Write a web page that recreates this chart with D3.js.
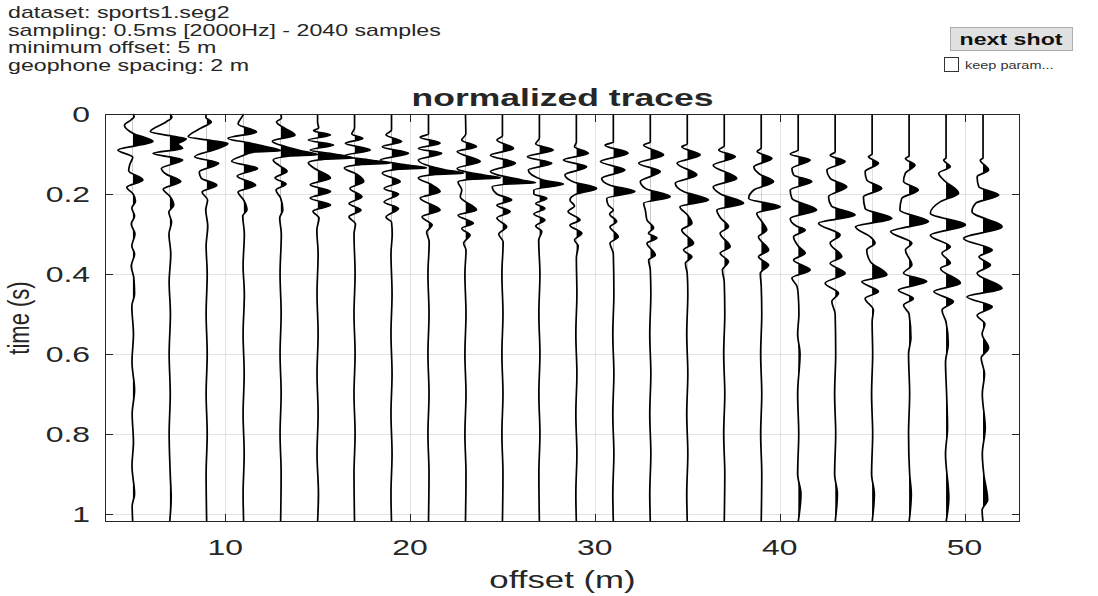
<!DOCTYPE html>
<html>
<head>
<meta charset="utf-8">
<script src="https://cdn.jsdelivr.net/npm/d3@7"></script>
<style>
  body { margin: 0; background: #fff; }
  text { font-family: "Liberation Sans", Arial, sans-serif; fill: #262626; }
</style>
</head>
<body>
<script>
// geophone offsets (m), one trace each
const offsets = [5, 7, 9, 11, 13, 15, 17, 19, 21, 23, 25, 27, 29, 31, 33, 35, 37, 39, 41, 43, 45, 47, 49, 51];
const xTicks = [10, 20, 30, 40, 50];
const yTicks = [0, 0.2, 0.4, 0.6, 0.8, 1];
const infoLines = [
  "dataset: sports1.seg2",
  "sampling: 0.5ms [2000Hz] - 2040 samples",
  "minimum offset: 5 m",
  "geophone spacing: 2 m"
];

// each trace: [time (s), normalized amplitude (in offset units)]
const tr05 = [[0,0],[0.006,0.08],[0.015,-0.1],[0.028,-0.45],[0.048,0],[0.069,1.1],[0.09,-0.8],[0.108,0],[0.125,-0.15],[0.142,-0.22],[0.165,0.55],[0.183,-0.32],[0.2,0.02],[0.218,0.15],[0.235,-0.05],[0.255,0.1],[0.275,-0.08],[0.3,0.12],[0.33,-0.05],[0.35,0.1],[0.38,-0.08],[0.41,0.06],[0.45,0.1],[0.48,-0.05],[0.55,0.04],[0.62,-0.04],[0.69,0.1],[0.75,-0.03],[0.82,0.04],[0.88,-0.04],[0.95,0.1],[0.98,-0.03],[1.02,0]];
const tr07 = [[0,0],[0.008,0.12],[0.02,-0.2],[0.044,-1.05],[0.056,0.2],[0.062,0.9],[0.075,0.45],[0.086,0.7],[0.098,-0.9],[0.115,0.7],[0.136,-0.45],[0.15,-0.2],[0.169,0.6],[0.188,-0.35],[0.205,0],[0.228,0.22],[0.245,-0.05],[0.27,0.1],[0.3,-0.04],[0.35,0.06],[0.42,-0.03],[0.5,0.04],[0.6,-0.03],[0.7,0.03],[0.8,-0.03],[0.9,0.03],[0.96,0.08],[1.02,0]];
const tr09 = [[0,0],[0.008,-0.05],[0.02,0.25],[0.035,-0.3],[0.057,-1.0],[0.066,0.2],[0.074,1.15],[0.088,0.5],[0.107,-0.65],[0.123,0.65],[0.145,-0.4],[0.16,-0.3],[0.178,0.55],[0.195,-0.25],[0.215,0.05],[0.24,-0.05],[0.28,0.06],[0.33,-0.03],[0.4,0.03],[0.5,-0.03],[0.6,0.03],[0.7,-0.03],[0.8,0.03],[0.9,-0.03],[1.02,0]];
const tr11 = [[0,0],[0.008,-0.1],[0.025,-0.3],[0.045,0.7],[0.061,-0.85],[0.072,0.3],[0.082,1.25],[0.092,2.0],[0.095,0.6],[0.105,-0.1],[0.118,-0.65],[0.136,0.75],[0.155,-0.35],[0.178,0.65],[0.195,-0.3],[0.215,0],[0.24,0.18],[0.255,-0.05],[0.3,0.04],[0.38,-0.03],[0.45,0.04],[0.55,-0.03],[0.65,0.03],[0.75,-0.03],[0.85,0.03],[0.95,-0.03],[1.02,0]];
const tr13 = [[0,0],[0.01,0.05],[0.02,-0.22],[0.035,0.2],[0.053,0.78],[0.068,-0.45],[0.082,0.3],[0.092,1.1],[0.102,2.0],[0.105,0.5],[0.115,-0.4],[0.128,-0.1],[0.143,0.35],[0.16,-0.3],[0.175,0.3],[0.19,-0.25],[0.21,0],[0.24,0.12],[0.26,-0.05],[0.3,0.04],[0.4,-0.03],[0.5,0.03],[0.6,-0.03],[0.7,0.03],[0.8,-0.03],[0.9,0.03],[1.02,0]];
const tr15 = [[0,0],[0.02,0],[0.035,0.06],[0.042,-0.22],[0.0525,0.7],[0.065,-0.5],[0.0775,0.87],[0.09,-0.4],[0.1,0.9],[0.11,1.9],[0.113,0.4],[0.122,-0.5],[0.135,-0.2],[0.16,0.7],[0.177,-0.4],[0.194,0.7],[0.21,-0.4],[0.2275,0.7],[0.243,-0.25],[0.26,0.08],[0.29,-0.04],[0.35,0.03],[0.45,-0.03],[0.55,0.03],[0.65,-0.03],[0.75,0.03],[0.85,-0.03],[0.95,0.05],[1.02,0]];
const tr17 = [[0,0],[0.035,0],[0.05,-0.15],[0.061,0.45],[0.073,-0.5],[0.09,0.85],[0.105,-0.6],[0.115,0.85],[0.123,1.9],[0.126,0.4],[0.135,-0.55],[0.15,0.1],[0.169,0.5],[0.186,-0.25],[0.207,0.4],[0.224,-0.3],[0.24,0.35],[0.257,-0.3],[0.275,0.05],[0.3,-0.03],[0.4,0.03],[0.5,-0.03],[0.6,0.03],[0.7,-0.03],[0.8,0.03],[0.9,-0.03],[1.02,0]];
const tr19 = [[0,0],[0.04,0],[0.052,-0.3],[0.069,0.55],[0.082,-0.5],[0.098,0.92],[0.115,-0.6],[0.128,0.9],[0.135,1.9],[0.138,0.4],[0.148,-0.5],[0.169,0.47],[0.186,-0.4],[0.2,0.38],[0.22,-0.4],[0.236,0.38],[0.258,-0.3],[0.27,0],[0.3,0.04],[0.35,-0.03],[0.45,0.03],[0.55,-0.03],[0.65,0.03],[0.75,-0.03],[0.85,0.03],[0.95,-0.03],[1.02,0]];
const tr21 = [[0,0],[0.05,0],[0.058,-0.45],[0.073,0.63],[0.086,-0.55],[0.098,0.72],[0.115,-0.55],[0.14,0.95],[0.148,1.9],[0.151,0.4],[0.16,-0.55],[0.175,0.1],[0.194,0.63],[0.21,-0.45],[0.24,0.63],[0.257,-0.35],[0.2775,0.2],[0.295,-0.1],[0.32,0.04],[0.4,-0.03],[0.5,0.03],[0.6,-0.03],[0.7,0.03],[0.8,-0.03],[0.9,0.03],[1.02,0]];
const tr23 = [[0,0],[0.05,0.02],[0.065,-0.2],[0.082,0.6],[0.094,-0.45],[0.119,0.8],[0.136,-0.45],[0.153,1.0],[0.16,1.9],[0.163,0.4],[0.17,-0.4],[0.19,-0.2],[0.207,-0.28],[0.24,0.6],[0.253,-0.4],[0.273,0.43],[0.286,-0.2],[0.3025,0.25],[0.323,-0.1],[0.34,0.03],[0.4,-0.03],[0.5,0.03],[0.6,-0.03],[0.7,0.03],[0.8,-0.03],[0.9,0.03],[1.02,0]];
const tr25 = [[0,0],[0.055,0],[0.065,-0.3],[0.086,0.6],[0.103,-0.65],[0.123,0.7],[0.144,-0.65],[0.165,1.05],[0.172,1.8],[0.175,0.4],[0.182,-0.55],[0.2,-0.3],[0.215,0.5],[0.228,-0.3],[0.244,0.42],[0.26,-0.3],[0.282,0.23],[0.3,-0.2],[0.32,0.04],[0.4,-0.03],[0.5,0.03],[0.6,-0.03],[0.7,0.03],[0.8,-0.03],[0.9,0.03],[1.02,0]];
const tr27 = [[0,0],[0.06,0],[0.075,-0.2],[0.09,0.75],[0.107,-0.65],[0.123,0.67],[0.14,-0.6],[0.165,0.2],[0.175,1.3],[0.19,-0.3],[0.2,-0.3],[0.211,0.4],[0.224,-0.2],[0.236,0.3],[0.25,-0.3],[0.265,0.3],[0.28,-0.2],[0.294,0.13],[0.315,-0.04],[0.4,0.03],[0.5,-0.03],[0.6,0.03],[0.7,-0.03],[0.8,0.03],[0.9,-0.03],[1.02,0]];
const tr29 = [[0,0],[0.07,0],[0.082,-0.1],[0.098,0.65],[0.115,-0.7],[0.132,0.56],[0.152,-0.62],[0.17,-0.15],[0.186,1.1],[0.2,0],[0.215,-0.35],[0.23,-0.1],[0.244,-0.45],[0.265,0.2],[0.278,-0.35],[0.298,0.3],[0.315,-0.1],[0.33,0.1],[0.36,0],[0.45,0.03],[0.55,-0.03],[0.65,0.03],[0.75,-0.03],[0.85,0.03],[0.95,-0.03],[1.02,0]];
const tr31 = [[0,0],[0.07,0],[0.078,-0.45],[0.098,0.8],[0.119,-0.7],[0.14,0.63],[0.161,-0.63],[0.178,-0.18],[0.194,1.17],[0.211,-0.36],[0.228,-0.27],[0.24,0],[0.25,-0.2],[0.269,0.18],[0.282,-0.18],[0.307,0.27],[0.323,-0.18],[0.35,0],[0.45,0.03],[0.55,-0.03],[0.65,0.03],[0.75,-0.03],[0.85,0.03],[0.95,-0.03],[1.02,0]];
const tr33 = [[0,0],[0.07,0],[0.0775,-0.36],[0.1025,0.72],[0.123,-0.63],[0.144,0.54],[0.169,-0.54],[0.186,-0.27],[0.207,1.08],[0.223,-0.36],[0.24,-0.27],[0.265,-0.18],[0.285,0.18],[0.298,-0.1],[0.31,0.36],[0.323,-0.18],[0.3525,0.27],[0.365,-0.09],[0.39,0],[0.45,0.03],[0.55,-0.03],[0.65,0.03],[0.75,-0.03],[0.85,0.03],[0.95,-0.03],[1.02,0]];
const tr35 = [[0,0],[0.075,0],[0.082,-0.3],[0.1025,0.7],[0.123,-0.55],[0.1525,0.52],[0.173,-0.65],[0.194,-0.2],[0.215,1.15],[0.232,-0.4],[0.252,0],[0.273,0.25],[0.29,-0.3],[0.323,0.34],[0.34,-0.2],[0.357,0.25],[0.373,-0.1],[0.4,0],[0.45,0.03],[0.55,-0.03],[0.65,0.03],[0.75,-0.03],[0.85,0.03],[0.95,-0.03],[1.02,0]];
const tr37 = [[0,0],[0.08,0],[0.09,-0.3],[0.107,0.6],[0.128,-0.6],[0.161,0.68],[0.182,-0.6],[0.2,-0.2],[0.223,1.05],[0.24,-0.4],[0.26,-0.2],[0.282,0.23],[0.298,-0.22],[0.332,0.32],[0.348,-0.22],[0.369,0.23],[0.39,-0.1],[0.42,0],[0.5,0.03],[0.6,-0.03],[0.7,0.03],[0.8,-0.03],[0.9,0.03],[1.02,0]];
const tr39 = [[0,0],[0.085,0],[0.094,-0.22],[0.111,0.58],[0.132,-0.4],[0.15,-0.1],[0.169,0.67],[0.19,-0.4],[0.211,-0.68],[0.232,1.03],[0.248,-0.24],[0.27,0.05],[0.29,0.3],[0.307,-0.15],[0.34,0.4],[0.357,-0.15],[0.3775,0.4],[0.398,-0.05],[0.43,0],[0.5,0.03],[0.6,-0.03],[0.7,0.03],[0.8,-0.03],[0.9,0.03],[1.02,0]];
const tr41 = [[0,0],[0.09,0],[0.1,-0.43],[0.115,0.65],[0.136,-0.34],[0.152,-0.25],[0.169,0.74],[0.19,-0.43],[0.211,-0.34],[0.24,1.0],[0.261,-0.43],[0.28,-0.1],[0.29,0.38],[0.307,-0.25],[0.33,0],[0.348,0.38],[0.365,-0.25],[0.39,0.65],[0.41,-0.34],[0.43,-0.07],[0.45,0],[0.5,0.04],[0.55,-0.03],[0.6,0.1],[0.7,-0.03],[0.8,0.03],[0.9,-0.03],[0.95,0.15],[1.02,0]];
const tr43 = [[0,0],[0.095,0],[0.103,-0.27],[0.119,0.54],[0.14,-0.45],[0.161,-0.27],[0.182,0.63],[0.207,-0.36],[0.23,-0.2],[0.2525,1.08],[0.273,-0.9],[0.3025,0.27],[0.323,-0.27],[0.357,0.36],[0.373,-0.27],[0.398,0.54],[0.423,-0.54],[0.448,0.18],[0.469,-0.18],[0.5,0],[0.6,0.03],[0.7,-0.03],[0.8,0.03],[0.9,-0.03],[0.95,0.12],[1.02,0]];
const tr45 = [[0,0],[0.1,0],[0.107,-0.2],[0.123,0.34],[0.144,-0.38],[0.165,-0.29],[0.186,0.52],[0.207,-0.47],[0.236,-0.38],[0.261,1.07],[0.282,-0.9],[0.307,-0.1],[0.323,0.16],[0.34,-0.29],[0.369,-0.1],[0.4025,0.8],[0.419,-0.56],[0.444,0.34],[0.461,-0.38],[0.49,0.07],[0.52,0],[0.6,0.03],[0.7,-0.03],[0.8,0.03],[0.9,-0.03],[0.95,0.12],[1.02,0]];
const tr47 = [[0,0],[0.105,0],[0.111,-0.2],[0.1275,0.32],[0.148,-0.2],[0.169,-0.3],[0.19,0.5],[0.211,-0.4],[0.24,-0.5],[0.269,1.05],[0.294,-1.0],[0.323,0.15],[0.34,-0.2],[0.3775,0.15],[0.398,-0.3],[0.419,0.96],[0.44,-0.58],[0.461,0.23],[0.478,-0.3],[0.5,0],[0.56,0.1],[0.6,-0.03],[0.7,0.03],[0.8,-0.03],[0.9,0.03],[0.95,0.12],[1.02,0]];
const tr49 = [[0,0],[0.11,0],[0.115,-0.13],[0.132,0.23],[0.148,-0.4],[0.165,-0.13],[0.198,0.68],[0.219,-0.3],[0.248,-0.85],[0.2775,1.05],[0.303,-0.85],[0.332,0.23],[0.348,-0.22],[0.373,0.23],[0.386,-0.3],[0.423,0.78],[0.444,-0.66],[0.469,0.4],[0.49,-0.22],[0.52,0],[0.575,0.12],[0.62,-0.03],[0.7,0.03],[0.785,0.08],[0.85,-0.03],[0.96,0.15],[1.02,0]];
const tr51 = [[0,0],[0.11,0],[0.115,-0.15],[0.14,0.3],[0.157,-0.32],[0.182,-0.23],[0.2025,0.85],[0.223,-0.4],[0.244,-0.6],[0.282,1.03],[0.311,-1.05],[0.34,0.5],[0.357,-0.22],[0.3775,0.4],[0.398,-0.32],[0.436,1.03],[0.457,-0.87],[0.482,0.5],[0.503,-0.32],[0.525,0.1],[0.55,-0.05],[0.585,0.3],[0.61,-0.1],[0.65,0.08],[0.7,-0.04],[0.785,0.12],[0.85,-0.04],[0.9,0.04],[0.965,0.25],[0.99,-0.05],[1.02,0]];

const traces = [tr05, tr07, tr09, tr11, tr13, tr15, tr17, tr19, tr21, tr23, tr25, tr27,
                tr29, tr31, tr33, tr35, tr37, tr39, tr41, tr43, tr45, tr47, tr49, tr51];

const W = 1098, H = 596;
const SX = 1.45;   // the picture is stretched sideways, text too

const svg = d3.select("body").append("svg")
    .attr("width", W)
    .attr("height", H);

const x = d3.scaleLinear().domain([3.5, 53]).range([105, 1020]);
const y = d3.scaleLinear().domain([0, 1.02]).range([114, 522]);

// stretched text helper
function txt(px, py, str, size, anchor, weight) {
  return svg.append("text")
      .attr("transform", `translate(${px},${py}) scale(${SX},1)`)
      .attr("text-anchor", anchor || "start")
      .attr("font-size", size)
      .attr("font-weight", weight || "normal")
      .text(str);
}

// grid
const grid = svg.append("g").attr("stroke", "#e2e2e2").attr("stroke-width", 1);
grid.selectAll(".gx").data(xTicks).join("line")
    .attr("x1", d => Math.round(x(d)) + 0.5).attr("x2", d => Math.round(x(d)) + 0.5)
    .attr("y1", y(0)).attr("y2", y(1.02));
grid.selectAll(".gy").data(yTicks.slice(1)).join("line")
    .attr("x1", x(3.5)).attr("x2", x(53))
    .attr("y1", d => Math.round(y(d)) + 0.5).attr("y2", d => Math.round(y(d)) + 0.5);

// traces: wiggle line + positive lobes filled black
const defs = svg.append("defs");
const tg = svg.append("g");
traces.forEach((tr, i) => {
  const o = offsets[i];
  const id = "clip" + o;
  defs.append("clipPath").attr("id", id)
    .append("rect")
      .attr("x", x(o)).attr("y", y(0))
      .attr("width", x(53) - x(o)).attr("height", y(1.02) - y(0));

  const area = d3.area()
      .curve(d3.curveMonotoneY)
      .y(d => y(d[0]))
      .x0(x(o))
      .x1(d => x(o + d[1]));
  tg.append("path")
      .datum(tr)
      .attr("clip-path", `url(#${id})`)
      .attr("fill", "#000")
      .attr("d", area);

  const line = d3.line()
      .curve(d3.curveMonotoneY)
      .x(d => x(o + d[1]))
      .y(d => y(d[0]));
  tg.append("path")
      .datum(tr)
      .attr("fill", "none")
      .attr("stroke", "#000")
      .attr("stroke-width", 1.7)
      .attr("d", line);
});

// frame and ticks (MATLAB style, ticks inside, mirrored)
const ax = svg.append("g").attr("stroke", "#262626").attr("stroke-width", 1);
ax.append("rect")
    .attr("x", x(3.5) + 0.5).attr("y", y(0) + 0.5)
    .attr("width", x(53) - x(3.5) - 1).attr("height", y(1.02) - y(0) - 1)
    .attr("fill", "none");
const tl = 8;
xTicks.forEach(v => {
  const px = Math.round(x(v)) + 0.5;
  ax.append("line").attr("x1", px).attr("x2", px).attr("y1", y(1.02)).attr("y2", y(1.02) - tl);
  ax.append("line").attr("x1", px).attr("x2", px).attr("y1", y(0)).attr("y2", y(0) + tl);
});
yTicks.forEach(v => {
  const py = Math.round(y(v)) + 0.5;
  ax.append("line").attr("x1", x(3.5)).attr("x2", x(3.5) + tl).attr("y1", py).attr("y2", py);
  ax.append("line").attr("x1", x(53)).attr("x2", x(53) - tl).attr("y1", py).attr("y2", py);
});

// tick labels
xTicks.forEach(v => txt(x(v), 555, d3.format("d")(v), 22, "middle"));
yTicks.forEach(v => txt(90, y(v) + 8, d3.format("~g")(v), 22, "end"));

// axis titles and title
txt(x(28.25), 588, "offset (m)", 24, "middle");
svg.append("text")
    .attr("transform", `translate(29,${y(0.51)}) rotate(-90) scale(1,1.3)`)
    .attr("text-anchor", "middle")
    .attr("font-size", 22)
    .text("time (s)");
txt(x(28.25), 106, "normalized traces", 24.5, "middle", "bold");

// header info text
infoLines.forEach((s, i) => txt(8, 18 + i * 17.5, s, 16, "start"));

// "next shot" button and checkbox
svg.append("rect")
    .attr("x", 950.5).attr("y", 27.5).attr("width", 122).attr("height", 23)
    .attr("fill", "#e1e1e1").attr("stroke", "#adadad");
txt(1011, 45, "next shot", 16, "middle", "bold").style("fill", "#111");
svg.append("rect")
    .attr("x", 944.5).attr("y", 57.5).attr("width", 14).attr("height", 14)
    .attr("fill", "#fff").attr("stroke", "#333");
txt(965, 69, "keep param...", 10, "start").style("fill", "#333");
</script>
</body>
</html>
